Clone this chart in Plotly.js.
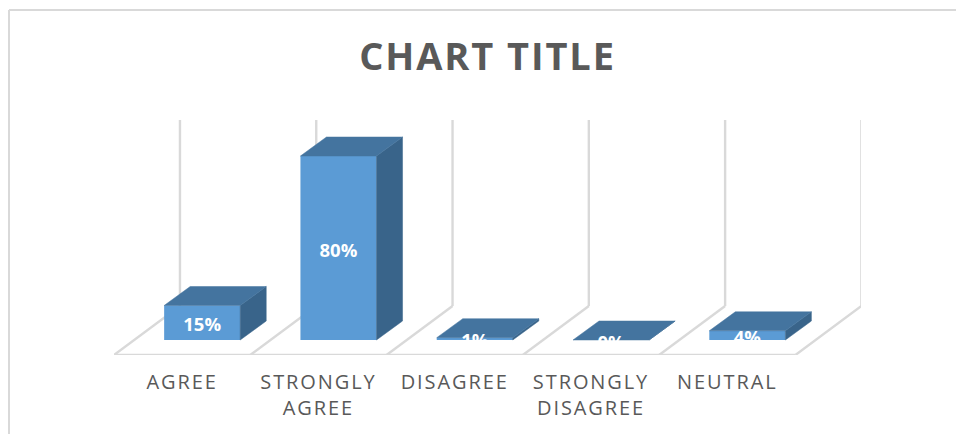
<!DOCTYPE html>
<html>
<head>
<meta charset="utf-8">
<script src="https://cdn.plot.ly/plotly-3.0.1.min.js"></script>
<style>
  html, body { margin: 0; padding: 0; background: #fff; overflow: hidden; }
  #chart { width: 956px; height: 434px; }
  .xtick text { letter-spacing: 1.9px; }
  .gtitle { letter-spacing: 1.9px; }
</style>
</head>
<body>
<div id="chart"></div>
<script>
// Survey responses, shown as pseudo-3D columns standing on a floor.
const categories = ['AGREE', 'STRONGLY<br>AGREE', 'DISAGREE', 'STRONGLY<br>DISAGREE', 'NEUTRAL'];
const shares = [15, 80, 1, 0, 4];

// Oblique projection, in axis units: x in category widths, y in percent.
const floorDepthX = 0.484, floorDepthY = 21.3;
const barDepthX = 0.191, barDepthY = 8.26;
const barOffsetX = 0.147, barWidth = 0.558;
const floorFront = -6.52, wallTop = 95.65;
const labelDrop = 1.7;

const frontFace = '#5b9bd5', topFace = '#44749f', sideFace = '#39648a';
const wallColor = '#d9d9d9', textColor = '#595959';
const fontStack = '"Open Sans", sans-serif';

const centers = shares.map((_, i) => i + barOffsetX);
const lefts = centers.map(c => c - barWidth / 2);
const rights = centers.map(c => c + barWidth / 2);

// One fill trace per extruded face.
function face(xs, ys, color) {
  return { type: 'scatter', mode: 'lines', x: xs, y: ys, fill: 'toself', fillcolor: color,
           line: { color: color, width: 0.5 }, hoverinfo: 'skip' };
}
const topFaces = shares.map((v, i) => face(
  [lefts[i], rights[i], rights[i] + barDepthX, lefts[i] + barDepthX, lefts[i]],
  [v, v, v + barDepthY, v + barDepthY, v], topFace));
const sideFaces = shares.map((v, i) => face(
  [rights[i], rights[i] + barDepthX, rights[i] + barDepthX, rights[i], rights[i]],
  [0, barDepthY, v + barDepthY, v, 0], sideFace));

const columns = { type: 'bar', x: centers, y: shares, width: barWidth,
                  marker: { color: frontFace }, hoverinfo: 'skip' };
const labels = { type: 'scatter', mode: 'text', x: centers, y: shares.map(v => v / 2 - labelDrop),
                 text: shares.map(v => v + '%'), textposition: 'middle center', cliponaxis: false,
                 textfont: { family: fontStack, size: 18.5, weight: 700, color: '#ffffff' },
                 hoverinfo: 'skip' };

// Floor edges and wall uprights sit under the columns.
function edge(x0, y0, x1, y1) {
  return { type: 'line', layer: 'below', xref: 'x', yref: 'y', x0, y0, x1, y1,
           line: { color: wallColor, width: 2.4 } };
}
const dividers = [-0.5, 0.5, 1.5, 2.5, 3.5, 4.5];
const shapes = [edge(-0.5, floorFront, 4.5, floorFront)];
dividers.forEach(d => {
  const bx = d + floorDepthX, by = floorFront + floorDepthY;
  shapes.push(edge(d, floorFront, bx, by));
  shapes.push(edge(bx, by, bx, wallTop));
});

// Outer frame: top and left rules only.
const frameRule = (x0, y0, x1, y1) => ({ type: 'line', xref: 'paper', yref: 'paper', x0, y0, x1, y1,
                                         line: { color: wallColor, width: 2 } });
const W = 956, H = 434, L = 114, R = 95, T = 120, B = 79;
const px = v => (v - L) / (W - L - R);
const py = v => (H - B - v) / (H - T - B);
shapes.push(frameRule(px(9), py(10), px(W), py(10)));
shapes.push(frameRule(px(9), py(10), px(9), py(H)));

Plotly.newPlot('chart', [columns, ...sideFaces, ...topFaces, labels], {
  width: W, height: H,
  margin: { l: L, r: R, t: T, b: B, pad: 0 },
  paper_bgcolor: '#ffffff', plot_bgcolor: 'rgba(0,0,0,0)',
  showlegend: false, hovermode: false,
  title: { text: 'CHART TITLE', x: 487.5 / W, xanchor: 'center', y: 1 - 57 / H, yanchor: 'middle',
           font: { family: fontStack, size: 38, weight: 700, color: textColor } },
  xaxis: { range: [-0.5, 4.981], tickmode: 'array', tickvals: categories.map((_, i) => i), ticktext: categories,
           tickangle: 0, showgrid: false, zeroline: false, showline: false, ticks: 'outside', ticklen: 9,
           tickcolor: 'rgba(0,0,0,0)', tickfont: { family: fontStack, size: 20, color: textColor } },
  yaxis: { range: [floorFront, wallTop], visible: false, showgrid: false, zeroline: false },
  shapes: shapes
}, { displayModeBar: false, staticPlot: true });
</script>
</body>
</html>
